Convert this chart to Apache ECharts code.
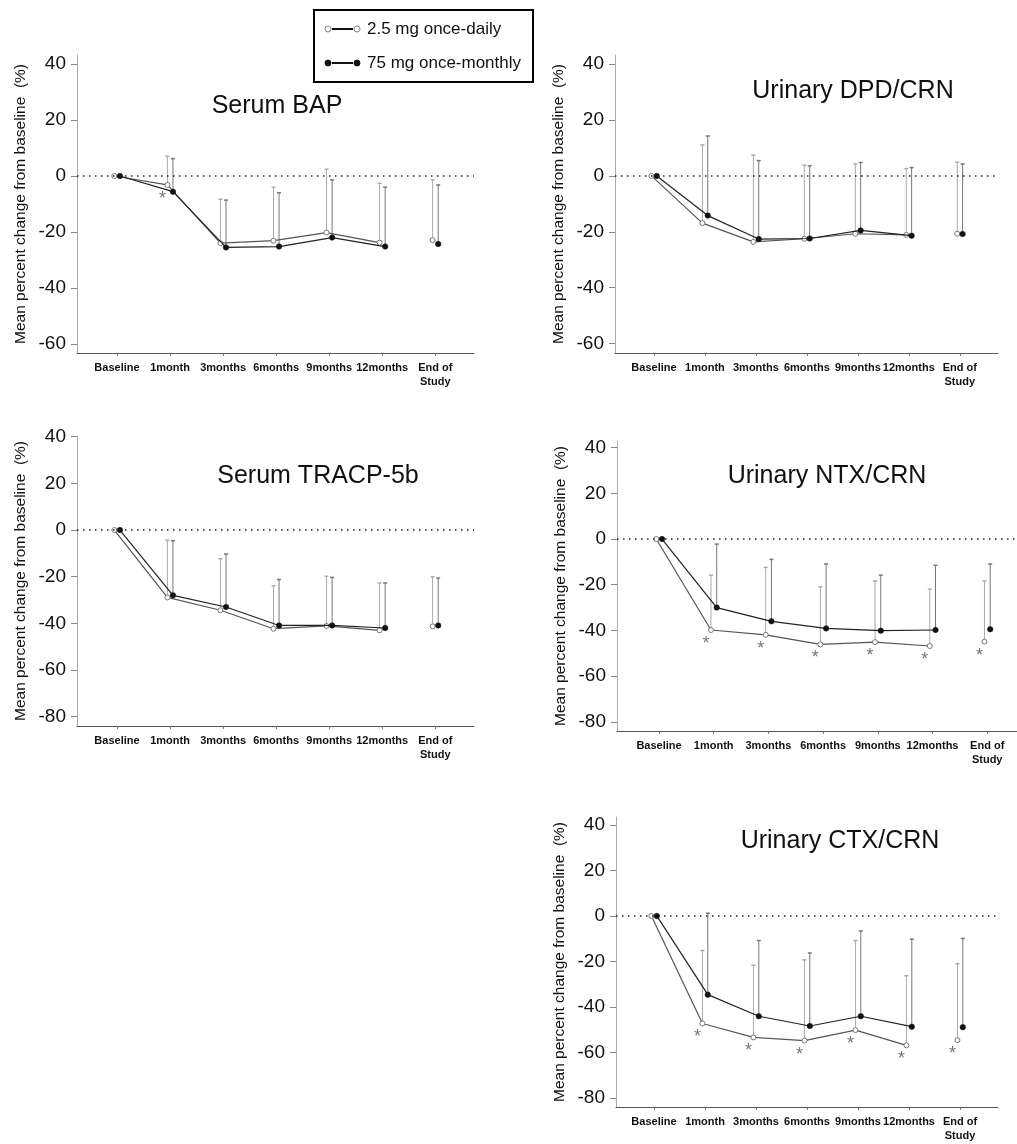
<!DOCTYPE html>
<html>
<head>
<meta charset="utf-8">
<script src="https://cdn.jsdelivr.net/npm/echarts@6.0.0/dist/echarts.min.js"></script>
<style>
  html, body { margin: 0; padding: 0; background: #fff; }
  #chart { width: 1017px; height: 1144px; }
</style>
</head>
<body>
<div id="chart"></div>
<script>
const categories = ['Baseline', '1month', '3months', '6months', '9months', '12months', 'End of\nStudy']
const seriesNames = ['2.5 mg once-daily', '75 mg once-monthly']

// mean % change and top of error bar
const bapDaily = [0, -3.2, -24.0, -23.1, -20.2, -23.8, -22.9]
const bapDailyUp = [null, 7.1, -8.3, -4.0, 2.4, -2.6, -1.4]
const bapMonthly = [0, -5.6, -25.5, -25.2, -22.0, -25.2, -24.3]
const bapMonthlyUp = [null, 6.2, -8.6, -6.0, -1.4, -4.0, -3.2]
const bapSig = [0, 1, 0, 0, 0, 0, 0]

const dpdDaily = [0, -16.9, -23.6, -22.5, -20.7, -21.1, -20.7]
const dpdDailyUp = [null, 11.1, 7.4, 3.8, 4.3, 2.6, 4.9]
const dpdMonthly = [0, -14.2, -22.6, -22.4, -19.5, -21.4, -20.8]
const dpdMonthlyUp = [null, 14.3, 5.5, 3.6, 4.8, 3.0, 4.3]
const dpdSig = [0, 0, 0, 0, 0, 0, 0]

const tracpDaily = [0, -28.9, -34.4, -42.3, -41.1, -43.0, -41.3]
const tracpDailyUp = [null, -4.3, -12.3, -23.9, -19.8, -22.7, -20.1]
const tracpMonthly = [0, -28.0, -33.0, -40.9, -40.9, -42.0, -40.9]
const tracpMonthlyUp = [null, -4.6, -10.3, -21.2, -20.3, -22.7, -20.6]
const tracpSig = [0, 0, 0, 0, 0, 0, 0]

const ntxDaily = [0, -39.8, -41.9, -46.1, -45.1, -46.8, -44.9]
const ntxDailyUp = [null, -15.8, -12.4, -20.9, -18.4, -21.9, -18.4]
const ntxMonthly = [0, -30.0, -36.0, -39.1, -40.1, -39.8, -39.5]
const ntxMonthlyUp = [null, -2.2, -8.9, -10.9, -15.8, -11.5, -10.9]
const ntxSig = [0, 1, 1, 1, 1, 1, 1]

const ctxDaily = [0, -47.3, -53.4, -54.8, -50.2, -56.9, -54.6]
const ctxDailyUp = [null, -15.2, -21.7, -19.3, -10.8, -26.3, -21.0]
const ctxMonthly = [0, -34.6, -44.1, -48.4, -44.1, -48.7, -48.9]
const ctxMonthlyUp = [null, 1.2, -10.8, -16.3, -6.6, -10.2, -9.9]
const ctxSig = [0, 1, 1, 1, 1, 1, 1]

const ticks60 = [-60, -40, -20, 0, 20, 40]
const ticks80 = [-80, -60, -40, -20, 0, 20, 40]

const FONT = '"Liberation Sans", Arial, Helvetica, sans-serif'
const OFF_DAILY = -0.05
const OFF_MONTHLY = 0.055

const panels = [
  {
    title: 'Serum BAP', titleAt: [277, 106],
    daily: bapDaily, dailyUp: bapDailyUp, monthly: bapMonthly, monthlyUp: bapMonthlyUp, sig: bapSig,
    grid: { left: 77, top: 55, width: 397, height: 298 },
    x: [-0.754, 6.73], y: [-63.2, 43.2], yTicks: ticks60,
  },
  {
    title: 'Urinary DPD/CRN', titleAt: [853, 91],
    daily: dpdDaily, dailyUp: dpdDailyUp, monthly: dpdMonthly, monthlyUp: dpdMonthlyUp, sig: dpdSig,
    grid: { left: 615, top: 55, width: 383, height: 298 },
    x: [-0.765, 6.75], y: [-63.4, 43.3], yTicks: ticks60,
  },
  {
    title: 'Serum TRACP-5b', titleAt: [318, 476],
    daily: tracpDaily, dailyUp: tracpDailyUp, monthly: tracpMonthly, monthlyUp: tracpMonthlyUp, sig: tracpSig,
    grid: { left: 77, top: 436, width: 397, height: 290 },
    x: [-0.754, 6.73], y: [-84.0, 40.3], yTicks: ticks80,
  },
  {
    title: 'Urinary NTX/CRN', titleAt: [827, 476],
    daily: ntxDaily, dailyUp: ntxDailyUp, monthly: ntxMonthly, monthlyUp: ntxMonthlyUp, sig: ntxSig,
    grid: { left: 617, top: 441, width: 400, height: 290 },
    x: [-0.768, 6.545], y: [-84.0, 42.9], yTicks: ticks80,
  },
  {
    title: 'Urinary CTX/CRN', titleAt: [840, 841],
    daily: ctxDaily, dailyUp: ctxDailyUp, monthly: ctxMonthly, monthlyUp: ctxMonthlyUp, sig: ctxSig,
    grid: { left: 616, top: 817, width: 382, height: 290 },
    x: [-0.745, 6.745], y: [-84.0, 43.5], yTicks: ticks80,
  },
]

const catIdx = categories.map((c, i) => i)

// line is broken before End of Study
function lineData(vals, off) {
  const out = []
  vals.forEach((v, i) => {
    if (i === vals.length - 1) out.push([i - 0.5, '-'])
    out.push([i + off, v])
  })
  return out
}

function barData(vals, up, off) {
  const out = []
  vals.forEach((v, i) => {
    if (up[i] != null) out.push([i + off, v, up[i]])
  })
  return out
}

function errorBar(color) {
  return function (params, api) {
    const bot = api.coord([api.value(0), api.value(1)])
    const top = api.coord([api.value(0), api.value(2)])
    return {
      type: 'group',
      children: [
        { type: 'line', shape: { x1: bot[0], y1: bot[1], x2: top[0], y2: top[1] }, style: { stroke: color, lineWidth: 1 } },
        { type: 'line', shape: { x1: top[0] - 2, y1: top[1], x2: top[0] + 2, y2: top[1] }, style: { stroke: color, lineWidth: 1.5 } },
      ],
    }
  }
}

function renderStar(params, api) {
  const p = api.coord([api.value(0), api.value(1)])
  return {
    type: 'text',
    x: p[0] - 5,
    y: p[1] + 14,
    style: { text: '*', fontSize: 18, fontFamily: FONT, fill: '#777', align: 'center', verticalAlign: 'middle' },
  }
}

const grids = []
const xAxes = []
const yAxes = []
const series = []
const graphics = []

panels.forEach((p, i) => {
  grids.push(Object.assign({ containLabel: false }, p.grid))

  xAxes.push({
    type: 'value',
    gridIndex: i,
    min: p.x[0],
    max: p.x[1],
    axisLine: { show: true, onZero: false, lineStyle: { color: '#555', width: 1 } },
    axisTick: { show: true, customValues: catIdx, length: 3, lineStyle: { color: '#777' } },
    axisLabel: {
      customValues: catIdx,
      formatter: (v) => categories[Math.round(v)],
      fontFamily: FONT,
      fontSize: 11,
      fontWeight: 'bold',
      color: '#111',
      margin: 8,
      lineHeight: 14,
    },
    splitLine: { show: false },
  })

  yAxes.push({
    type: 'value',
    gridIndex: i,
    min: p.y[0],
    max: p.y[1],
    axisLine: { show: true, onZero: false, lineStyle: { color: '#aaa', width: 1 } },
    axisTick: { show: true, customValues: p.yTicks, length: 6, lineStyle: { color: '#888' } },
    axisLabel: { customValues: p.yTicks, fontFamily: FONT, fontSize: 19, color: '#111', margin: 11 },
    splitLine: { show: false },
    name: 'Mean percent change from baseline  (%)',
    nameLocation: 'middle',
    nameRotate: 90,
    nameGap: 48,
    nameTextStyle: { fontFamily: FONT, fontSize: 15.5, color: '#111' },
  })

  series.push(
    {
      type: 'custom',
      xAxisIndex: i,
      yAxisIndex: i,
      z: 1,
      renderItem: errorBar('#aaa'),
      encode: { x: 0, y: [1, 2] },
      data: barData(p.daily, p.dailyUp, OFF_DAILY),
    },
    {
      type: 'custom',
      xAxisIndex: i,
      yAxisIndex: i,
      z: 1,
      renderItem: errorBar('#777'),
      encode: { x: 0, y: [1, 2] },
      data: barData(p.monthly, p.monthlyUp, OFF_MONTHLY),
    },
    {
      name: seriesNames[0],
      type: 'line',
      xAxisIndex: i,
      yAxisIndex: i,
      z: 3,
      symbol: 'circle',
      symbolSize: 5,
      connectNulls: false,
      lineStyle: { color: '#555', width: 1.2 },
      itemStyle: { color: '#fff', borderColor: '#777', borderWidth: 1 },
      data: lineData(p.daily, OFF_DAILY),
    },
    {
      name: seriesNames[1],
      type: 'line',
      xAxisIndex: i,
      yAxisIndex: i,
      z: 4,
      symbol: 'circle',
      symbolSize: 5.5,
      connectNulls: false,
      lineStyle: { color: '#222', width: 1.2 },
      itemStyle: { color: '#111', borderColor: '#111', borderWidth: 0.5 },
      data: lineData(p.monthly, OFF_MONTHLY),
      markLine: {
        silent: true,
        symbol: 'none',
        label: { show: false },
        lineStyle: { color: '#222', width: 1.5, type: [1.5, 4.5] },
        data: [{ yAxis: 0 }],
      },
    },
    {
      type: 'custom',
      xAxisIndex: i,
      yAxisIndex: i,
      z: 5,
      renderItem: renderStar,
      data: p.daily.map((v, k) => [k + OFF_DAILY, v]).filter((d, k) => p.sig[k]),
    }
  )

  graphics.push({
    type: 'text',
    x: p.titleAt[0],
    y: p.titleAt[1],
    style: { text: p.title, fontFamily: FONT, fontSize: 25, fill: '#111', align: 'center', verticalAlign: 'middle' },
  })
})

// legend box
const legendRows = [
  { y: 29, fill: '#fff', stroke: '#888' },
  { y: 63, fill: '#111', stroke: '#111' },
]
graphics.push({
  type: 'rect',
  shape: { x: 314, y: 10, width: 219, height: 72 },
  style: { fill: '#fff', stroke: '#000', lineWidth: 2 },
  z: 10,
})
legendRows.forEach((r, k) => {
  graphics.push(
    { type: 'line', shape: { x1: 332, y1: r.y, x2: 353, y2: r.y }, style: { stroke: '#111', lineWidth: 2 }, z: 11 },
    { type: 'circle', shape: { cx: 328, cy: r.y, r: 3 }, style: { fill: r.fill, stroke: r.stroke, lineWidth: 1 }, z: 12 },
    { type: 'circle', shape: { cx: 357, cy: r.y, r: 3 }, style: { fill: r.fill, stroke: r.stroke, lineWidth: 1 }, z: 12 },
    {
      type: 'text', x: 367, y: r.y, z: 12,
      style: { text: seriesNames[k], fontFamily: FONT, fontSize: 17, fill: '#111', align: 'left', verticalAlign: 'middle' },
    }
  )
})

const chart = echarts.init(document.getElementById('chart'), null, { renderer: 'canvas' })
const option = {
  backgroundColor: '#fff',
  animation: false,
  grid: grids,
  xAxis: xAxes,
  yAxis: yAxes,
  series,
  graphic: graphics,
}
option && chart.setOption(option)
</script>
</body>
</html>
